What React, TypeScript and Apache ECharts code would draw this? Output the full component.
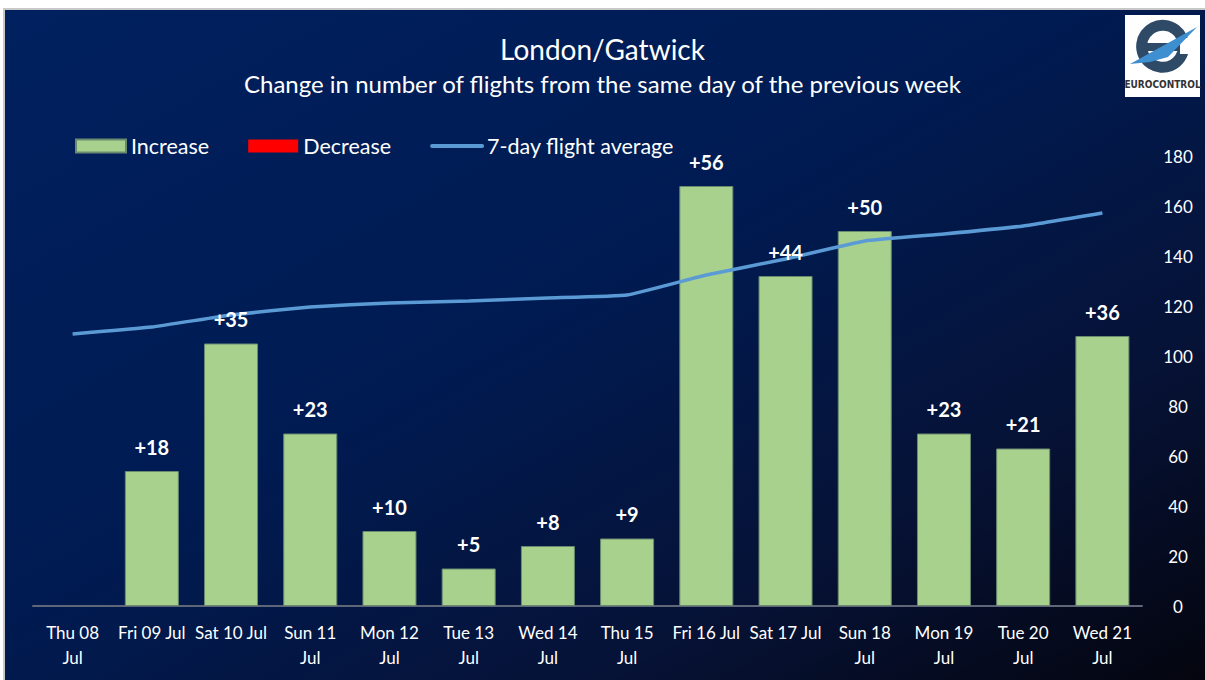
import React, { useEffect, useRef } from "react";
import * as echarts from "echarts";

const categories = [
  "Thu 08\nJul", "Fri 09 Jul", "Sat 10 Jul", "Sun 11\nJul", "Mon 12\nJul", "Tue 13\nJul", "Wed 14\nJul",
  "Thu 15\nJul", "Fri 16 Jul", "Sat 17 Jul", "Sun 18\nJul", "Mon 19\nJul", "Tue 20\nJul", "Wed 21\nJul",
];
const increaseValues: (number | null)[] = [null, 18, 35, 23, 10, 5, 8, 9, 56, 44, 50, 23, 21, 36];
const decreaseValues: (number | null)[] = [null, null, null, null, null, null, null, null, null, null, null, null, null, null];
const avgValues = [108.8, 111.6, 116.4, 119.6, 121.2, 122, 123.2, 124.4, 132.4, 138.8, 146, 148.8, 152, 157.2];
const rightTicks = { min: 0, max: 180, interval: 20 };

const FONT = "Lato, 'Open Sans', sans-serif";

export default function App() {
  const ref = useRef<HTMLDivElement>(null);
  useEffect(() => {
    if (!ref.current) return;
    const chart = echarts.init(ref.current, null, { renderer: "svg" });
    chart.setOption({
      animation: false,
      backgroundColor: new echarts.graphic.LinearGradient(0, 0, 1, 1, [
        { offset: 0, color: "#00205F" },
        { offset: 0.45, color: "#001B52" },
        { offset: 0.75, color: "#061236" },
        { offset: 1, color: "#04050E" },
      ]),
      textStyle: { fontFamily: FONT },
      title: [
        {
          text: "London/Gatwick",
          left: "center",
          top: 30,
          textStyle: { color: "#ffffff", fontSize: 28, fontWeight: "normal", fontFamily: FONT },
        },
        {
          text: "Change in number of flights from the same day of the previous week",
          left: "center",
          top: 66,
          textStyle: { color: "#ffffff", fontSize: 24, fontWeight: "normal", fontFamily: FONT },
        },
      ],
      legend: {
        left: 70,
        top: 130,
        itemWidth: 50,
        itemHeight: 13,
        itemGap: 39,
        textStyle: { color: "#ffffff", fontSize: 21.5, fontFamily: FONT, padding: [0, 0, 0, 0] },
        data: [
          { name: "Increase", icon: "rect" },
          { name: "Decrease", icon: "rect" },
          { name: "7-day flight average", itemStyle: { opacity: 0 }, lineStyle: { width: 4, cap: "round" } },
        ],
      },
      grid: { left: 33, right: 63, top: 156, bottom: 74, containLabel: false },
      xAxis: {
        type: "category",
        data: categories,
        axisTick: { show: false },
        axisLine: { lineStyle: { color: "#5F6677", width: 2 } },
        axisLabel: {
          color: "#ffffff",
          fontSize: 17,
          lineHeight: 25,
          margin: 14,
          interval: 0,
          fontFamily: FONT,
        },
      },
      yAxis: [
        { type: "value", min: 0, max: 60, show: false, splitLine: { show: false } },
        {
          type: "value",
          position: "right",
          min: rightTicks.min,
          max: rightTicks.max,
          interval: rightTicks.interval,
          splitLine: { show: false },
          axisLine: { show: false },
          axisTick: { show: false },
          axisLabel: { color: "#ffffff", fontSize: 17, align: "center", margin: 36, fontFamily: FONT },
        },
      ],
      series: [
        {
          name: "Increase",
          type: "bar",
          yAxisIndex: 0,
          data: increaseValues,
          barWidth: 54,
          barGap: "-100%",
          z: 2,
          itemStyle: { color: "#A9D18E", borderColor: "#6A8A70", borderWidth: 1 },
        },
        {
          name: "Decrease",
          type: "bar",
          yAxisIndex: 0,
          data: decreaseValues,
          barWidth: 54,
          z: 2,
          itemStyle: { color: "#FF0000" },
        },
        {
          name: "7-day flight average",
          type: "line",
          yAxisIndex: 1,
          data: avgValues,
          symbol: "none",
          smooth: 0.12,
          z: 5,
          lineStyle: { color: "#5B9BD5", width: 3.5 },
          itemStyle: { color: "#5B9BD5" },
        },
        {
          name: "labels",
          type: "scatter",
          yAxisIndex: 0,
          data: increaseValues,
          symbolSize: 1,
          z: 10,
          silent: true,
          itemStyle: { color: "rgba(0,0,0,0)", opacity: 1 },
          label: {
            show: true,
            position: "top",
            distance: 14,
            formatter: (p: any) => "+" + p.value,
            color: "#ffffff",
            opacity: 1,
            fontSize: 20,
            fontWeight: "bold",
            fontFamily: FONT,
          },
        },
      ],
      graphic: [
        { type: "rect", shape: { x: 0, y: 0, width: 1205, height: 8 }, style: { fill: "#ffffff" }, z: 100 },
        { type: "rect", shape: { x: 0, y: 0, width: 3, height: 680 }, style: { fill: "#ffffff" }, z: 100 },
        { type: "rect", shape: { x: 3, y: 8, width: 1202, height: 2 }, style: { fill: "#C8C8C8" }, z: 100 },
        { type: "rect", shape: { x: 3, y: 8, width: 2, height: 672 }, style: { fill: "#C8C8C8" }, z: 100 },
        {
          type: "group",
          z: 100,
          children: [
            { type: "rect", shape: { x: 1125, y: 15, width: 75, height: 82 }, style: { fill: "#ffffff" } },
            {
              type: "arc",
              shape: { cx: 1163, cy: 47, r: 21, startAngle: -Math.PI * 0.15, endAngle: Math.PI * 1.85, clockwise: true },
              style: { stroke: "#2E4A67", lineWidth: 11, fill: "none" },
            },
            {
              type: "rect",
              shape: { x: 1146, y: 43, width: 34, height: 8 },
              style: { fill: "#2E4A67" },
            },
            {
              type: "rect",
              shape: { x: 1180, y: 38, width: 14, height: 16 },
              style: { fill: "#ffffff" },
            },
            {
              type: "polygon",
              shape: { points: [[1130, 64], [1197, 27], [1168, 57], [1150, 62]] },
              style: { fill: "#3E8FD0" },
            },
            {
              type: "text",
              x: 1162.5,
              y: 84,
              style: {
                text: "EUROCONTROL",
                fill: "#333333",
                font: "bold 10px 'Liberation Sans Narrow', 'DejaVu Sans Condensed', sans-serif",
                align: "center",
                verticalAlign: "middle",
              },
            },
          ],
        },
      ],
    });
    return () => chart.dispose();
  }, []);
  return (
    <div
      ref={ref}
      style={{ position: "fixed", left: 0, top: 0, width: 1205, height: 680 }}
    />
  );
}
